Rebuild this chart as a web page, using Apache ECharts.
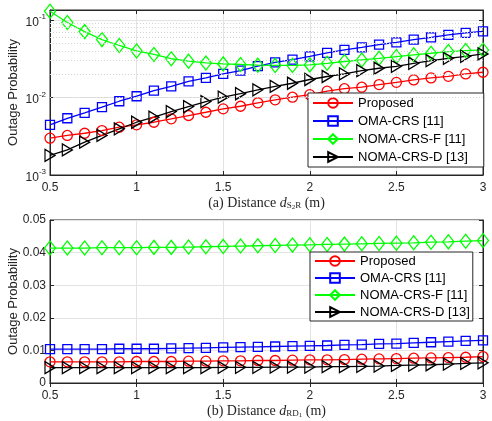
<!DOCTYPE html>
<html>
<head>
<meta charset="utf-8">
<script src="https://cdn.jsdelivr.net/npm/echarts@6/dist/echarts.min.js"></script>
<style>
  html, body { margin: 0; padding: 0; background: #fff; }
  #chart { width: 492px; height: 421px; }
</style>
</head>
<body>
<div id="chart"></div>
<script>
// distance (m), same grid for both panels
const distance = [0.5, 0.6, 0.7, 0.8, 0.9, 1.0, 1.1, 1.2, 1.3, 1.4, 1.5, 1.6, 1.7,
                  1.8, 1.9, 2.0, 2.1, 2.2, 2.3, 2.4, 2.5, 2.6, 2.7, 2.8, 2.9, 3.0];
const seriesNames = ['Proposed', 'OMA-CRS [11]', 'NOMA-CRS-F [11]', 'NOMA-CRS-D [13]'];

// (a) outage vs d_S2R
const aProposed = [0.00299, 0.00324, 0.00346, 0.00375, 0.00414, 0.00444, 0.00480, 0.00531, 0.00586,
                   0.00646, 0.00714, 0.00772, 0.00855, 0.00934, 0.0101, 0.0109, 0.0121, 0.0130,
                   0.0136, 0.0147, 0.0157, 0.0169, 0.0179, 0.0188, 0.0202, 0.0212];
const aOma = [0.00444, 0.0054, 0.00635, 0.0075, 0.00896, 0.0104, 0.0123, 0.0139, 0.0162, 0.0179,
              0.0202, 0.0223, 0.0254, 0.0285, 0.0309, 0.0341, 0.0378, 0.0412, 0.0445, 0.0483,
              0.0517, 0.0560, 0.0600, 0.0644, 0.0684, 0.0717];
const aNomaF = [0.130, 0.093, 0.071, 0.056, 0.047, 0.040, 0.036, 0.0317, 0.0295, 0.0280, 0.0272,
                0.0267, 0.0262, 0.0260, 0.0260, 0.0264, 0.0277, 0.0292, 0.0306, 0.0321, 0.0338,
                0.0356, 0.0373, 0.0392, 0.0404, 0.0412];
const aNomaD = [0.00179, 0.00211, 0.00265, 0.00324, 0.00395, 0.0048, 0.00557, 0.00659, 0.00765,
                0.00888, 0.0101, 0.0112, 0.0126, 0.0139, 0.0153, 0.0171, 0.0187, 0.0202, 0.0223,
                0.0239, 0.0253, 0.0277, 0.0300, 0.0321, 0.0341, 0.0366];

// (b) outage vs d_RD1
const bProposed = [0.0065, 0.0065, 0.0065, 0.0065, 0.0065, 0.0066, 0.0066, 0.0066, 0.0067, 0.0067,
                   0.0068, 0.0068, 0.0069, 0.0069, 0.0070, 0.0071, 0.0071, 0.0072, 0.0073, 0.0074,
                   0.0075, 0.0076, 0.0077, 0.0078, 0.0079, 0.0081];
const bOma = [0.0104, 0.0104, 0.0104, 0.0104, 0.0105, 0.0105, 0.0105, 0.0106, 0.0107, 0.0108,
              0.0109, 0.0110, 0.0111, 0.0112, 0.0113, 0.0114, 0.0115, 0.0117, 0.0118, 0.0120,
              0.0121, 0.0123, 0.0125, 0.0127, 0.0129, 0.0131];
const bNomaF = [0.0414, 0.0414, 0.0414, 0.0415, 0.0415, 0.0415, 0.0416, 0.0416, 0.0417, 0.0418,
                0.0419, 0.0420, 0.0421, 0.0422, 0.0423, 0.0424, 0.0425, 0.0426, 0.0427, 0.0428,
                0.0429, 0.0430, 0.0432, 0.0433, 0.0435, 0.0437];
const bNomaD = [0.0047, 0.0047, 0.0047, 0.0047, 0.0047, 0.0047, 0.0047, 0.0047, 0.0047, 0.0047,
                0.0048, 0.0048, 0.0048, 0.0049, 0.0049, 0.0049, 0.0050, 0.0050, 0.0051, 0.0052,
                0.0054, 0.0055, 0.0056, 0.0058, 0.0060, 0.0062];

// dotted minor grid of the log panel (2..9 x each decade)
const logMinorTicks = [];
[0.001, 0.01, 0.1].forEach(dec => {
    for (let k = 2; k <= 9; k++) {
        if (dec * k < 0.135) logMinorTicks.push(dec * k);
    }
});

const chart = echarts.init(document.getElementById('chart'));

const axisColor = '#262626';
const sansFont = '"Liberation Sans", Arial, sans-serif';
const serifFont = '"Liberation Serif", "DejaVu Serif", serif';

const styles = [
    {color: '#ff0000', symbol: 'circle', size: 10},
    {color: '#0000ff', symbol: 'rect', size: 9},
    {color: '#00ff00', symbol: 'diamond', size: [11, 14]},
    {color: '#000000', symbol: 'path://M0,0L1,0.5L0,1Z', size: [10, 12]}
];

function makeSeries (idx, values, axisIdx) {
    const st = styles[idx];
    return {
        name: seriesNames[idx],
        type: 'line',
        xAxisIndex: axisIdx,
        yAxisIndex: axisIdx,
        data: distance.map((d, i) => [d, values[i]]),
        symbol: st.symbol,
        symbolSize: st.size,
        showAllSymbol: true,
        color: st.color,
        lineStyle: {color: st.color, width: 1.3},
        itemStyle: {color: 'rgba(255,255,255,0)', borderColor: st.color, borderWidth: 1.3},
        emphasis: {disabled: true},
        animation: false,
        z: 3
    };
}

function xAxisFor (grid, caption) {
    return {
        type: 'value',
        gridIndex: grid,
        min: 0.5,
        max: 3,
        interval: 0.5,
        axisLine: {lineStyle: {color: axisColor, width: 1}},
        axisTick: {inside: true, length: 4, lineStyle: {color: axisColor}},
        axisLabel: {color: axisColor, fontFamily: sansFont, fontSize: 12, margin: 7},
        splitLine: {show: true, lineStyle: {color: '#e3e3e3', width: 1}},
        name: caption,
        nameLocation: 'middle',
        nameGap: 20,
        nameMoveOverlap: false,
        nameTextStyle: {
            color: axisColor, fontFamily: serifFont, fontSize: 14,
            rich: {
                i: {fontFamily: serifFont, fontStyle: 'italic', fontSize: 14, color: axisColor},
                s: {fontFamily: serifFont, fontSize: 9, color: axisColor, padding: [6, 0, 0, 0]},
                ss: {fontFamily: serifFont, fontSize: 7, color: axisColor, padding: [9, 0, 0, 0]}
            }
        }
    };
}

function boxXAxis (grid) {
    return {
        type: 'value', gridIndex: grid, position: 'top', min: 0.5, max: 3, interval: 0.5,
        axisLine: {lineStyle: {color: axisColor}},
        axisTick: {inside: true, length: 4, lineStyle: {color: axisColor}},
        axisLabel: {show: false}, splitLine: {show: false}
    };
}

const yName = {
    name: 'Outage Probability',
    nameLocation: 'middle',
    nameGap: 30,
    nameMoveOverlap: false,
    nameTextStyle: {color: axisColor, fontFamily: sansFont, fontSize: 13}
};

const logAxisBase = {
    type: 'log',
    logBase: 10,
    gridIndex: 0,
    min: 0.001,
    max: 0.135,
    interval: 1
};

const option = {
    backgroundColor: '#fff',
    animation: false,
    grid: [
        {left: 50, right: 9, top: 10, height: 165, show: true, borderColor: axisColor, borderWidth: 1,
         containLabel: false, outerBoundsMode: 'none'},
        {left: 50, right: 9, top: 220, height: 163, show: true, borderColor: axisColor, borderWidth: 1,
         containLabel: false, outerBoundsMode: 'none'}
    ],
    legend: [
        {
            data: seriesNames,
            orient: 'vertical',
            left: 308, top: 93,
            itemWidth: 40, itemHeight: 12, itemGap: 2,
            padding: [2, 16, 2, 4],
            backgroundColor: '#fff',
            borderColor: axisColor, borderWidth: 1, borderRadius: 0,
            textStyle: {color: '#000', fontFamily: sansFont, fontSize: 13, lineHeight: 16},
            selectedMode: false
        },
        {
            data: seriesNames,
            orient: 'vertical',
            left: 310, top: 252,
            itemWidth: 40, itemHeight: 12, itemGap: 1,
            padding: [1, 3, 1, 4],
            backgroundColor: '#fff',
            borderColor: axisColor, borderWidth: 1, borderRadius: 0,
            textStyle: {color: '#000', fontFamily: sansFont, fontSize: 13, lineHeight: 16},
            selectedMode: false
        }
    ],
    xAxis: [
        xAxisFor(0, '(a) Distance {i|d}{s|S}{ss|2}{s|R} (m)'),
        xAxisFor(1, '(b) Distance {i|d}{s|RD}{ss|1} (m)'),
        boxXAxis(0),
        boxXAxis(1)
    ],
    yAxis: [
        Object.assign({}, logAxisBase, yName, {
            axisLine: {show: true, lineStyle: {color: axisColor}},
            axisTick: {inside: true, length: 4, lineStyle: {color: axisColor}},
            splitLine: {show: true, lineStyle: {color: '#e3e3e3', width: 1}},
            axisLabel: {
                color: axisColor, fontFamily: sansFont, fontSize: 12, margin: 4,
                formatter: v => {
                    const e = Math.log10(v);
                    if (Math.abs(e - Math.round(e)) > 0.01) return '';
                    return '{b|10}{p|' + Math.round(e) + '}';
                },
                rich: {
                    b: {color: axisColor, fontFamily: sansFont, fontSize: 12, padding: [5, 0, 0, 0]},
                    p: {color: axisColor, fontFamily: sansFont, fontSize: 8, padding: [0, 0, 6, 0]}
                }
            }
        }),
        Object.assign({
            type: 'value', gridIndex: 1, min: 0, max: 0.05, interval: 0.01,
            axisLine: {show: true, lineStyle: {color: axisColor}},
            axisTick: {inside: true, length: 4, lineStyle: {color: axisColor}},
            splitLine: {show: true, lineStyle: {color: '#e3e3e3', width: 1}},
            axisLabel: {
                color: axisColor, fontFamily: sansFont, fontSize: 12, margin: 4,
                formatter: v => v === 0 ? '0' : v.toFixed(2)
            }
        }, yName),
        Object.assign({}, logAxisBase, {
            position: 'right',
            axisLine: {show: true, lineStyle: {color: axisColor}},
            axisTick: {inside: true, length: 4, lineStyle: {color: axisColor}},
            axisLabel: {show: false}, splitLine: {show: false}
        }),
        {
            type: 'value', gridIndex: 1, position: 'right', min: 0, max: 0.05, interval: 0.01,
            axisLine: {show: true, lineStyle: {color: axisColor}},
            axisTick: {inside: true, length: 4, lineStyle: {color: axisColor}},
            axisLabel: {show: false}, splitLine: {show: false}
        }
    ],
    series: [
        {
            name: 'minor-grid',
            type: 'line',
            xAxisIndex: 0, yAxisIndex: 0,
            data: [],
            z: 1,
            silent: true,
            markLine: {
                silent: true,
                symbol: 'none',
                label: {show: false},
                animation: false,
                lineStyle: {color: '#d4d4d4', type: [1, 2], width: 1},
                data: logMinorTicks.map(v => ({yAxis: v}))
            }
        },
        makeSeries(0, aProposed, 0),
        makeSeries(1, aOma, 0),
        makeSeries(2, aNomaF, 0),
        makeSeries(3, aNomaD, 0),
        makeSeries(0, bProposed, 1),
        makeSeries(1, bOma, 1),
        makeSeries(2, bNomaF, 1),
        makeSeries(3, bNomaD, 1)
    ]
};

chart.setOption(option);
</script>
</body>
</html>
